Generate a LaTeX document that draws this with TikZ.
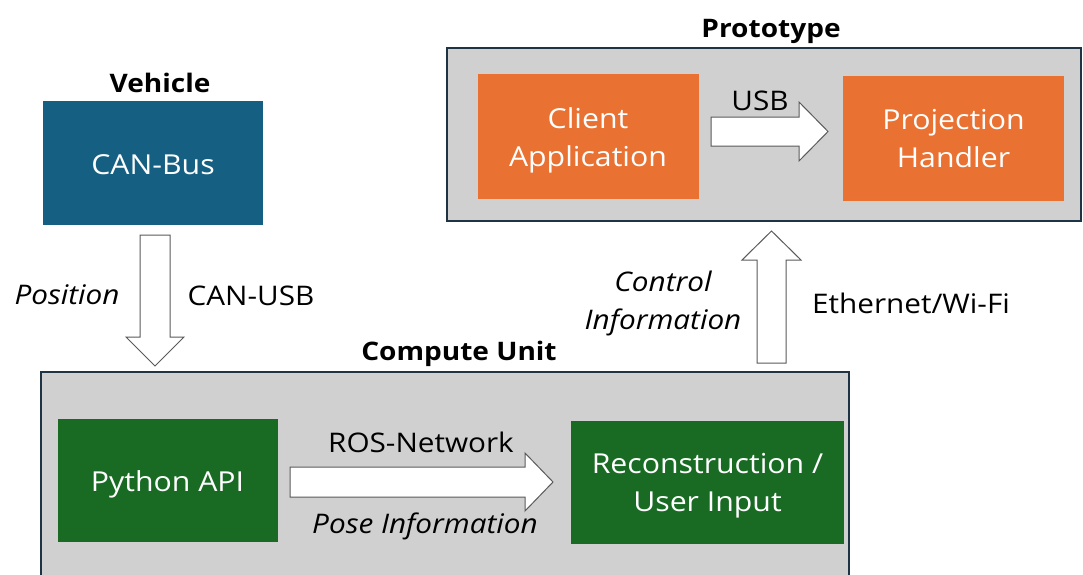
\documentclass[tikz,border=0pt]{standalone}
\usepackage{fontspec}
\setmainfont{Open Sans}[FakeStretch=1.1]
\begin{document}
\begin{tikzpicture}[x=1pt,y=-1pt,
  container/.style={draw=frameblue,line width=1.5pt,fill=boxgray},
  unitbox/.style={draw=none,minimum width=220pt,minimum height=124pt},
  boxtext/.style={text=white,align=center,font=\fontsize{27.5}{38}\selectfont},
  title/.style={font=\fontsize{25.5}{30}\selectfont\bfseries},
  lbl/.style={font=\fontsize{27}{38}\selectfont,align=center},
  ilbl/.style={font=\fontsize{27}{38}\selectfont\itshape,align=center},
  blockarrow/.style={draw=arrowgray,line width=1pt,fill=white,line join=miter}]
\definecolor{boxgray}{HTML}{D0D0D0}
\definecolor{frameblue}{HTML}{1E3445}
\definecolor{arrowgray}{HTML}{5A5A5A}
\definecolor{canblue}{HTML}{156082}
\definecolor{orangebox}{HTML}{E97132}
\definecolor{greenbox}{HTML}{196B24}
\clip (0,0) rectangle (1083,574);
\fill[white] (0,0) rectangle (1083,574);

% containers
\draw[container] (447,48) rectangle (1081,221);
\draw[container] (41,372) rectangle (849,600);

% titles
\node[title] (tveh) at (160,83) {Vehicle};
\node[title] (tproto) at (771,31) {Prototype};
\node[title] (tcomp) at (459,354) {Compute Unit};

% boxes
\node[unitbox,fill=canblue] (can) at (153,163) {};
\node[unitbox,fill=orangebox,minimum width=221pt,minimum height=125pt] (client) at (588,136.5) {};
\node[unitbox,fill=orangebox,minimum width=221pt,minimum height=125pt] (proj) at (953.5,138) {};
\node[unitbox,fill=greenbox,minimum width=220pt,minimum height=123pt] (py) at (167.5,480.5) {};
\node[unitbox,fill=greenbox,minimum width=273pt,minimum height=123pt] (rec) at (707.5,482.5) {};

\node[boxtext] (cant) at ([yshift=-2pt]can.center) {CAN-Bus};
\node[boxtext] (clientt) at ([yshift=-3.5pt]client.center) {Client\\Application};
\node[boxtext] (projt) at ([yshift=-1pt]proj.center) {Projection\\Handler};
\node[boxtext] (pyt) at ([yshift=-3.5pt]py.center) {Python API};
\node[boxtext] (rect) at ([yshift=-3.5pt]rec.center) {Reconstruction /\\User Input};

% block arrows
% down: CAN-Bus -> Compute Unit
\draw[blockarrow] (140,235) -- (170,235) -- (170,337) -- (184,337) -- (155,366)
  -- (126,337) -- (140,337) -- cycle;
% right: Client -> Projection (USB)
\draw[blockarrow] (711,117) -- (799,117) -- (799,102) -- (828,131.5) -- (799,161)
  -- (799,146) -- (711,146) -- cycle;
% up: Compute -> Prototype
\draw[blockarrow] (757,363) -- (757,260) -- (742,260) -- (771.5,231) -- (801,260)
  -- (786,260) -- (786,363) -- cycle;
% right: Python API -> Reconstruction
\draw[blockarrow] (290,467) -- (525,467) -- (525,453) -- (553,482) -- (525,511)
  -- (525,497) -- (290,497) -- cycle;

% labels
\node[ilbl] (lpos) at (67,295) {Position};
\node[lbl] (lcanusb) at (251,296) {CAN-USB};
\node[lbl] (lusb) at (760,101) {USB};
\node[ilbl] (lctrl) at (663,303) {Control\\Information};
\node[lbl] (leth) at (911,303) {Ethernet/Wi-Fi};
\node[lbl] (lros) at (421,442) {ROS-Network};
\node[ilbl] (lpose) at (425,526) {Pose Information};
\end{tikzpicture}
\end{document}
